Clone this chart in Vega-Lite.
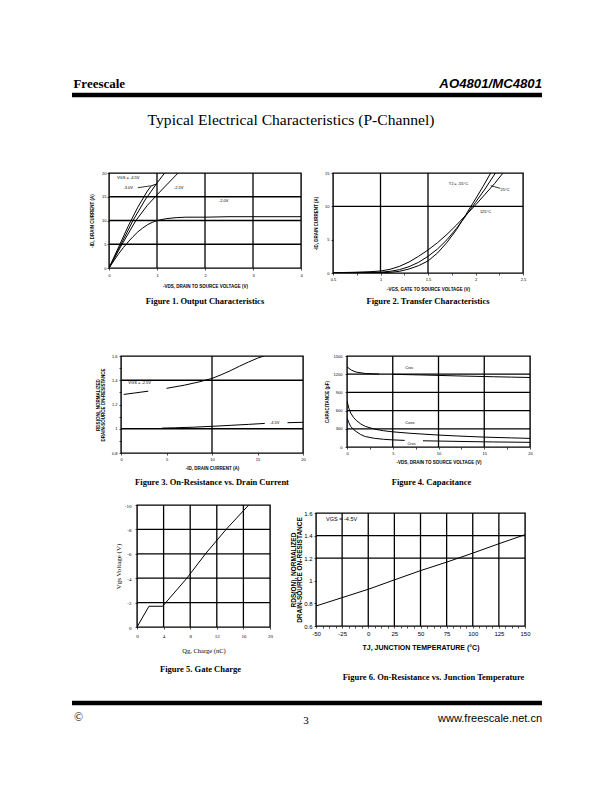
{
"$schema": "https://vega.github.io/schema/vega-lite/v6.json",
"background": "white",
"padding": {"left": 69, "top": 76, "right": 0, "bottom": 0},
"spacing": 0,
"config": {
 "view": {"stroke": "black", "strokeWidth": 1.4},
 "axis": {"domain": false, "grid": false, "tickColor": "black", "tickWidth": 0.7, "tickSize": 2, "labelColor": "black", "labelFont": "Liberation Sans", "labelFontSize": 4, "labelPadding": 2, "labelOverlap": false, "labelFlush": false, "titleColor": "black", "titleFont": "Liberation Sans Narrow, Liberation Sans", "titleFontWeight": "bold", "titleFontSize": 4.5},
 "title": {"font": "Liberation Serif", "fontWeight": "bold", "fontSize": 8.5, "color": "black", "orient": "bottom", "anchor": "middle", "frame": "group"},
 "line": {"color": "black", "strokeWidth": 1},
 "rule": {"color": "black"},
 "text": {"color": "black", "font": "Liberation Sans Narrow, Liberation Sans", "fontSize": 4}
},
"datasets": {
 "one": [{}],
 "f1": [
  {"c":"a","x":0,"y":0},{"c":"a","x":0.2,"y":4.4},{"c":"a","x":0.4,"y":8.8},{"c":"a","x":0.6,"y":12.8},{"c":"a","x":0.8,"y":16.2},{"c":"a","x":0.88,"y":17.3},{"c":"a","x":1.0,"y":17.7},
  {"c":"b","x":0,"y":0},{"c":"b","x":0.25,"y":5},{"c":"b","x":0.5,"y":10},{"c":"b","x":0.75,"y":14.3},{"c":"b","x":1.0,"y":17.9},{"c":"b","x":1.16,"y":20},
  {"c":"c","x":0,"y":0},{"c":"c","x":0.25,"y":4.6},{"c":"c","x":0.56,"y":10},{"c":"c","x":0.8,"y":13.2},{"c":"c","x":1.0,"y":15.4},{"c":"c","x":1.2,"y":17.5},{"c":"c","x":1.44,"y":20},
  {"c":"d","x":0,"y":0},{"c":"d","x":0.1,"y":1.5},{"c":"d","x":0.2,"y":3.0},{"c":"d","x":0.3,"y":4.3},{"c":"d","x":0.4,"y":5.5},{"c":"d","x":0.5,"y":6.6},{"c":"d","x":0.6,"y":7.6},{"c":"d","x":0.7,"y":8.4},{"c":"d","x":0.8,"y":9.1},{"c":"d","x":0.9,"y":9.6},{"c":"d","x":1.0,"y":10.0},{"c":"d","x":1.2,"y":10.4},{"c":"d","x":1.4,"y":10.6},{"c":"d","x":1.6,"y":10.7},{"c":"d","x":2.0,"y":10.7},{"c":"d","x":2.5,"y":10.8},{"c":"d","x":3.0,"y":10.8},{"c":"d","x":4.0,"y":10.8}
 ],
 "f1lab": [{"x":0.40,"y":19.0,"t":"VGS = -4.5V"},{"x":0.40,"y":16.8,"t":"-3.0V"},{"x":1.45,"y":16.8,"t":"-2.5V"},{"x":2.39,"y":14.2,"t":"-2.0V"}],
 "f1lead": [{"x":0.6,"y":16.9,"x2":0.87,"y2":17.3}],
 "f1g": [{"x":1,"y":0,"x2":1,"y2":20},{"x":2,"y":0,"x2":2,"y2":20},{"x":3,"y":0,"x2":3,"y2":20},{"x":0,"y":5,"x2":4,"y2":5},{"x":0,"y":10,"x2":4,"y2":10},{"x":0,"y":15,"x2":4,"y2":15}],
 "f2": [
  {"c":"125","x":0.5,"y":0.05},{"c":"125","x":0.7,"y":0.1},{"c":"125","x":0.9,"y":0.2},{"c":"125","x":1.0,"y":0.3},{"c":"125","x":1.1,"y":0.55},{"c":"125","x":1.2,"y":1.0},{"c":"125","x":1.3,"y":1.65},{"c":"125","x":1.4,"y":2.5},{"c":"125","x":1.5,"y":3.45},{"c":"125","x":1.6,"y":4.55},{"c":"125","x":1.7,"y":5.8},{"c":"125","x":1.8,"y":7.2},{"c":"125","x":1.9,"y":8.7},{"c":"125","x":2.0,"y":10.2},{"c":"125","x":2.1,"y":11.8},{"c":"125","x":2.2,"y":13.4},{"c":"125","x":2.29,"y":15},
  {"c":"25","x":0.5,"y":0.02},{"c":"25","x":0.8,"y":0.05},{"c":"25","x":1.0,"y":0.12},{"c":"25","x":1.1,"y":0.25},{"c":"25","x":1.2,"y":0.5},{"c":"25","x":1.3,"y":0.95},{"c":"25","x":1.4,"y":1.6},{"c":"25","x":1.5,"y":2.5},{"c":"25","x":1.6,"y":3.6},{"c":"25","x":1.7,"y":5.0},{"c":"25","x":1.8,"y":6.7},{"c":"25","x":1.9,"y":8.6},{"c":"25","x":2.0,"y":10.6},{"c":"25","x":2.1,"y":12.6},{"c":"25","x":2.21,"y":15},
  {"c":"-55","x":0.5,"y":0.01},{"c":"-55","x":0.8,"y":0.02},{"c":"-55","x":1.0,"y":0.05},{"c":"-55","x":1.1,"y":0.1},{"c":"-55","x":1.2,"y":0.25},{"c":"-55","x":1.3,"y":0.6},{"c":"-55","x":1.4,"y":1.1},{"c":"-55","x":1.5,"y":1.8},{"c":"-55","x":1.6,"y":3.0},{"c":"-55","x":1.7,"y":4.6},{"c":"-55","x":1.8,"y":6.5},{"c":"-55","x":1.9,"y":8.8},{"c":"-55","x":2.0,"y":11.1},{"c":"-55","x":2.08,"y":13.0},{"c":"-55","x":2.16,"y":15}
 ],
 "f2lab": [{"x":1.82,"y":13.4,"t":"TJ = -55°C"},{"x":2.31,"y":12.4,"t":"25°C"},{"x":2.105,"y":9.1,"t":"125°C"}],
 "f2lead": [{"x":2.26,"y":12.7,"x2":2.16,"y2":13.1}],
 "f2g": [{"x":1,"y":0,"x2":1,"y2":15},{"x":1.5,"y":0,"x2":1.5,"y2":15},{"x":0.5,"y":10,"x2":2.5,"y2":10}],
 "f3": [
  {"c":"a1","x":0.3,"y":1.283},{"c":"a1","x":1.5,"y":1.295},{"c":"a1","x":3.0,"y":1.31},
  {"c":"a2","x":5.0,"y":1.333},{"c":"a2","x":7.0,"y":1.36},{"c":"a2","x":8.5,"y":1.385},{"c":"a2","x":10,"y":1.415},{"c":"a2","x":11,"y":1.445},{"c":"a2","x":12,"y":1.478},{"c":"a2","x":13,"y":1.515},{"c":"a2","x":14,"y":1.55},{"c":"a2","x":15,"y":1.582},{"c":"a2","x":15.7,"y":1.6},
  {"c":"b1","x":4.5,"y":1.005},{"c":"b1","x":6,"y":1.008},{"c":"b1","x":8,"y":1.013},{"c":"b1","x":10,"y":1.02},{"c":"b1","x":12,"y":1.028},{"c":"b1","x":14,"y":1.036},{"c":"b1","x":15.8,"y":1.044},
  {"c":"b2","x":18.3,"y":1.05},{"c":"b2","x":20,"y":1.053}
 ],
 "f3lab": [{"x":2.05,"y":1.374,"t":"VGS = -2.5V"},{"x":16.88,"y":1.046,"t":"-4.5V"}],
 "f3g": [{"x":10,"y":0.8,"x2":10,"y2":1.6},{"x":0,"y":1.0,"x2":20,"y2":1.0},{"x":0,"y":1.4,"x2":20,"y2":1.4}],
 "f4": [
  {"c":"iss1","x":0,"y":1320},{"c":"iss1","x":0.5,"y":1265},{"c":"iss1","x":1,"y":1235},{"c":"iss1","x":2,"y":1212},{"c":"iss1","x":3.5,"y":1202},
  {"c":"iss2","x":5.0,"y":1198},{"c":"iss2","x":6,"y":1195},{"c":"iss2","x":8,"y":1188},{"c":"iss2","x":10,"y":1180},{"c":"iss2","x":12,"y":1172},{"c":"iss2","x":14,"y":1165},{"c":"iss2","x":16,"y":1158},{"c":"iss2","x":18,"y":1152},{"c":"iss2","x":20,"y":1146},
  {"c":"oss","x":0,"y":760},{"c":"oss","x":0.2,"y":640},{"c":"oss","x":0.4,"y":560},{"c":"oss","x":0.7,"y":490},{"c":"oss","x":1,"y":440},{"c":"oss","x":1.5,"y":380},{"c":"oss","x":2,"y":340},{"c":"oss","x":3,"y":295},{"c":"oss","x":4,"y":268},{"c":"oss","x":5,"y":250},{"c":"oss","x":7,"y":225},{"c":"oss","x":10,"y":197},{"c":"oss","x":12,"y":182},{"c":"oss","x":15,"y":163},{"c":"oss","x":18,"y":150},{"c":"oss","x":20,"y":142},
  {"c":"rss1","x":0,"y":480},{"c":"rss1","x":0.2,"y":400},{"c":"rss1","x":0.4,"y":340},{"c":"rss1","x":0.7,"y":290},{"c":"rss1","x":1,"y":255},{"c":"rss1","x":1.5,"y":205},{"c":"rss1","x":2,"y":172},{"c":"rss1","x":3,"y":143},{"c":"rss1","x":4,"y":127},{"c":"rss1","x":5,"y":117},{"c":"rss1","x":6.3,"y":109},
  {"c":"rss2","x":8.3,"y":102},{"c":"rss2","x":10,"y":98},{"c":"rss2","x":13,"y":90},{"c":"rss2","x":16,"y":83},{"c":"rss2","x":20,"y":77}
 ],
 "f4lab": [{"x":6.8,"y":1296,"t":"Ciss"},{"x":6.87,"y":403,"t":"Coss"},{"x":7.05,"y":50,"t":"Crss"}],
 "f4g": [{"x":5,"y":0,"x2":5,"y2":1500},{"x":10,"y":0,"x2":10,"y2":1500},{"x":15,"y":0,"x2":15,"y2":1500},{"x":0,"y":300,"x2":20,"y2":300},{"x":0,"y":600,"x2":20,"y2":600},{"x":0,"y":900,"x2":20,"y2":900},{"x":0,"y":1200,"x2":20,"y2":1200}],
 "f5": [{"x":0,"y":0},{"x":1.8,"y":-1.7},{"x":3.85,"y":-1.7},{"x":7.5,"y":-4},{"x":10.3,"y":-6},{"x":13.4,"y":-8},{"x":16.8,"y":-10}],
 "f5g": [{"x":4,"y":0,"x2":4,"y2":-10},{"x":8,"y":0,"x2":8,"y2":-10},{"x":12,"y":0,"x2":12,"y2":-10},{"x":16,"y":0,"x2":16,"y2":-10},{"x":0,"y":-2,"x2":20,"y2":-2},{"x":0,"y":-4,"x2":20,"y2":-4},{"x":0,"y":-6,"x2":20,"y2":-6},{"x":0,"y":-8,"x2":20,"y2":-8}],
 "f6": [{"x":-50,"y":0.777},{"x":-25,"y":0.851},{"x":0,"y":0.925},{"x":25,"y":1.008},{"x":50,"y":1.09},{"x":75,"y":1.165},{"x":100,"y":1.245},{"x":125,"y":1.328},{"x":150,"y":1.408}],
 "f6lab": [{"x":-25.5,"y":1.547,"t":"VGS = -4.5V"}],
 "f6g": [{"x":-25,"y":0.6,"x2":-25,"y2":1.6},{"x":0,"y":0.6,"x2":0,"y2":1.6},{"x":25,"y":0.6,"x2":25,"y2":1.6},{"x":50,"y":0.6,"x2":50,"y2":1.6},{"x":75,"y":0.6,"x2":75,"y2":1.6},{"x":100,"y":0.6,"x2":100,"y2":1.6},{"x":125,"y":0.6,"x2":125,"y2":1.6},{"x":-50,"y":1.2,"x2":150,"y2":1.2},{"x":-50,"y":1.4,"x2":150,"y2":1.4}]
},
"vconcat": [
 {
  "width": 470, "height": 94, "view": {"stroke": null},
  "data": {"name": "one"},
  "layer": [
   {"mark": {"type": "text", "align": "left", "baseline": "alphabetic", "font": "Liberation Serif", "fontWeight": "bold", "fontSize": 13},
    "encoding": {"x": {"datum": 0.003, "type": "quantitative", "scale": {"domain": [0, 1], "nice": false, "zero": false}, "axis": null},
                 "y": {"datum": 12, "type": "quantitative", "scale": {"domain": [0, 94], "reverse": true, "nice": false, "zero": false}, "axis": null},
                 "text": {"value": "Freescale"}}},
   {"mark": {"type": "text", "align": "right", "baseline": "alphabetic", "font": "Liberation Sans", "fontWeight": "bold", "fontStyle": "italic", "fontSize": 13.2},
    "encoding": {"x": {"datum": 1, "type": "quantitative"}, "y": {"datum": 12, "type": "quantitative"}, "text": {"value": "AO4801/MC4801"}}},
   {"mark": {"type": "rule", "strokeWidth": 4.5, "color": "black"},
    "encoding": {"x": {"datum": 0, "type": "quantitative"}, "x2": {"datum": 1}, "y": {"datum": 19, "type": "quantitative"}}},
   {"mark": {"type": "text", "align": "center", "baseline": "alphabetic", "font": "Liberation Serif", "fontSize": 15.6},
    "encoding": {"x": {"datum": 0.466, "type": "quantitative"}, "y": {"datum": 49, "type": "quantitative"}, "text": {"value": "Typical Electrical Characteristics (P-Channel)"}}}
  ]
 },
 {
  "hconcat": [
   {"width": 5, "height": 1, "view": {"stroke": null}, "data": {"name": "one"}, "mark": "text", "encoding": {"text": {"value": ""}}},
   {
    "width": 192, "height": 95,
    "title": {"text": "Figure 1. Output Characteristics", "offset": 9},
    "encoding": {
     "x": {"field": "x", "type": "quantitative", "scale": {"domain": [0, 4], "nice": false, "zero": false}, "axis": {"values": [0,1,2,3,4], "labelExpr": "'' + datum.value", "title": "-VDS, DRAIN TO SOURCE VOLTAGE (V)", "labelPadding": 3, "titlePadding": 6}},
     "y": {"field": "y", "type": "quantitative", "scale": {"domain": [0, 20], "nice": false, "zero": false}, "axis": {"values": [0,5,10,15,20], "labelExpr": "'' + datum.value", "title": "-ID, DRAIN CURRENT (A)", "labelPadding": 1, "titlePadding": 7}}
    },
    "layer": [
     {"data": {"name": "f1g"}, "mark": {"type": "rule", "strokeWidth": 1.3}, "encoding": {"x2": {"field": "x2"}, "y2": {"field": "y2"}}},
     {"data": {"name": "f1"}, "mark": {"type": "line", "clip": true}, "encoding": {"detail": {"field": "c"}}},
     {"data": {"name": "f1lead"}, "mark": {"type": "rule", "strokeWidth": 0.8}, "encoding": {"x2": {"field": "x2"}, "y2": {"field": "y2"}}},
     {"data": {"name": "f1lab"}, "mark": {"type": "text"}, "encoding": {"text": {"field": "t"}}}
    ]
   },
   {
    "width": 190, "height": 100,
    "title": {"text": "Figure 2. Transfer Characteristics", "offset": 6},
    "encoding": {
     "x": {"field": "x", "type": "quantitative", "scale": {"domain": [0.5, 2.5], "nice": false, "zero": false}, "axis": {"values": [0.5,0.75,1,1.25,1.5,1.75,2,2.25,2.5], "labelExpr": "datum.value % 0.5 == 0 ? '' + datum.value : ''", "title": "-VGS, GATE TO SOURCE VOLTAGE (V)", "labelPadding": 2, "titlePadding": 5}},
     "y": {"field": "y", "type": "quantitative", "scale": {"domain": [0, 15], "nice": false, "zero": false}, "axis": {"values": [0,5,10,15], "labelExpr": "'' + datum.value", "title": "-ID, DRAIN CURRENT (A)", "labelPadding": 2, "titlePadding": 6}}
    },
    "layer": [
     {"data": {"name": "f2g"}, "mark": {"type": "rule", "strokeWidth": 1.3}, "encoding": {"x2": {"field": "x2"}, "y2": {"field": "y2"}}},
     {"data": {"name": "f2"}, "mark": {"type": "line", "clip": true}, "encoding": {"detail": {"field": "c"}}},
     {"data": {"name": "f2lead"}, "mark": {"type": "rule", "strokeWidth": 0.8}, "encoding": {"x2": {"field": "x2"}, "y2": {"field": "y2"}}},
     {"data": {"name": "f2lab"}, "mark": {"type": "text"}, "encoding": {"text": {"field": "t"}}}
    ]
   }
  ],
  "spacing": 32, "bounds": "flush"
 },
 {"width": 1, "height": 47, "view": {"stroke": null}, "data": {"name": "one"}, "mark": "text", "encoding": {"text": {"value": ""}}},
 {
  "hconcat": [
   {"width": 5, "height": 1, "view": {"stroke": null}, "data": {"name": "one"}, "mark": "text", "encoding": {"text": {"value": ""}}},
   {
    "width": 182, "height": 97,
    "title": {"text": "Figure 3. On-Resistance vs. Drain Current", "offset": 8.5},
    "encoding": {
     "x": {"field": "x", "type": "quantitative", "scale": {"domain": [0, 20], "nice": false, "zero": false}, "axis": {"values": [0,5,10,15,20], "labelExpr": "'' + datum.value", "title": "-ID, DRAIN CURRENT (A)", "labelPadding": 2, "titlePadding": 4}},
     "y": {"field": "y", "type": "quantitative", "scale": {"domain": [0.8, 1.6], "nice": false, "zero": false}, "axis": {"values": [0.8,0.9,1,1.1,1.2,1.3,1.4,1.5,1.6], "labelExpr": "round(datum.value * 10) % 2 == 0 ? '' + datum.value : ''", "title": ["RDS(ON), NORMALIZED", "DRAIN-SOURCE ON-RESISTANCE"], "titleLineHeight": 5, "labelPadding": 2, "titlePadding": 6}}
    },
    "layer": [
     {"data": {"name": "f3g"}, "mark": {"type": "rule", "strokeWidth": 1.3}, "encoding": {"x2": {"field": "x2"}, "y2": {"field": "y2"}}},
     {"data": {"name": "f3"}, "mark": {"type": "line", "clip": true}, "encoding": {"detail": {"field": "c"}}},
     {"data": {"name": "f3lab"}, "mark": {"type": "text"}, "encoding": {"text": {"field": "t"}}}
    ]
   },
   {
    "width": 183, "height": 91,
    "title": {"text": "Figure 4. Capacitance", "offset": 14, "dx": -7},
    "encoding": {
     "x": {"field": "x", "type": "quantitative", "scale": {"domain": [0, 20], "nice": false, "zero": false}, "axis": {"values": [0,2.5,5,7.5,10,12.5,15,17.5,20], "labelExpr": "datum.value % 5 == 0 ? '' + datum.value : ''", "title": "-VDS, DRAIN TO SOURCE VOLTAGE (V)", "labelPadding": 2, "titlePadding": 4}},
     "y": {"field": "y", "type": "quantitative", "scale": {"domain": [0, 1500], "nice": false, "zero": false}, "axis": {"values": [0,300,600,900,1200,1500], "labelExpr": "'' + datum.value", "title": "CAPACITANCE (pF)", "labelPadding": 3, "titlePadding": 4}}
    },
    "layer": [
     {"data": {"name": "f4g"}, "mark": {"type": "rule", "strokeWidth": 1.3}, "encoding": {"x2": {"field": "x2"}, "y2": {"field": "y2"}}},
     {"data": {"name": "f4"}, "mark": {"type": "line", "clip": true}, "encoding": {"detail": {"field": "c"}}},
     {"data": {"name": "f4lab"}, "mark": {"type": "text"}, "encoding": {"text": {"field": "t"}}}
    ]
   }
  ],
  "spacing": 44, "bounds": "flush"
 },
 {"width": 1, "height": 14, "view": {"stroke": null}, "data": {"name": "one"}, "mark": "text", "encoding": {"text": {"value": ""}}},
 {
  "hconcat": [
   {"width": 19, "height": 1, "view": {"stroke": null}, "data": {"name": "one"}, "mark": "text", "encoding": {"text": {"value": ""}}},
   {
    "width": 133, "height": 122,
    "title": {"text": "Figure 5. Gate Charge", "offset": 11.5, "dx": -3},
    "encoding": {
     "x": {"field": "x", "type": "quantitative", "scale": {"domain": [0, 20], "nice": false, "zero": false}, "axis": {"values": [0,4,8,12,16,20], "labelExpr": "'' + datum.value", "title": "Qg, Charge (nC)", "labelFont": "Liberation Serif", "labelFontSize": 5, "titleFont": "Liberation Serif", "titleFontWeight": "normal", "titleFontSize": 6.5, "labelPadding": 4, "titlePadding": 9}},
     "y": {"field": "y", "type": "quantitative", "scale": {"domain": [0, -10], "nice": false, "zero": false}, "axis": {"values": [0,-2,-4,-6,-8,-10], "labelExpr": "'' + datum.value", "title": "Vgs Voltage (V)", "labelFont": "Liberation Serif", "labelFontSize": 5, "titleFont": "Liberation Serif", "titleFontWeight": "normal", "titleFontSize": 7, "labelPadding": 4, "titlePadding": 3}}
    },
    "layer": [
     {"data": {"name": "f5g"}, "mark": {"type": "rule", "strokeWidth": 1.3}, "encoding": {"x2": {"field": "x2"}, "y2": {"field": "y2"}}},
     {"data": {"name": "f5"}, "mark": {"type": "line", "clip": true}}
    ]
   },
   {
    "vconcat": [
     {"width": 1, "height": 8, "view": {"stroke": null}, "data": {"name": "one"}, "mark": "text", "encoding": {"text": {"value": ""}}},
     {
      "width": 209, "height": 113,
      "title": {"text": "Figure 6. On-Resistance vs. Junction Temperature", "offset": 22, "dx": 13},
      "encoding": {
       "x": {"field": "x", "type": "quantitative", "scale": {"domain": [-50, 150], "nice": false, "zero": false}, "axis": {"values": [-50,-43.75,-37.5,-31.25,-25,-18.75,-12.5,-6.25,0,6.25,12.5,18.75,25,31.25,37.5,43.75,50,56.25,62.5,68.75,75,81.25,87.5,93.75,100,106.25,112.5,118.75,125,131.25,137.5,143.75,150], "labelExpr": "datum.value % 25 == 0 ? '' + datum.value : ''", "title": "TJ, JUNCTION TEMPERATURE (°C)", "labelFontSize": 6, "titleFontSize": 7, "labelPadding": 2.5, "titlePadding": 7}},
       "y": {"field": "y", "type": "quantitative", "scale": {"domain": [0.6, 1.6], "nice": false, "zero": false}, "axis": {"values": [0.6,0.8,1,1.2,1.4,1.6], "labelExpr": "'' + datum.value", "title": ["RDS(ON), NORMALIZED", "DRAIN-SOURCE ON-RESISTANCE"], "labelFontSize": 6, "titleFontSize": 6.5, "titleLineHeight": 6.5, "labelPadding": 2, "titlePadding": 1}}
      },
      "layer": [
       {"data": {"name": "f6g"}, "mark": {"type": "rule", "strokeWidth": 1.3}, "encoding": {"x2": {"field": "x2"}, "y2": {"field": "y2"}}},
       {"data": {"name": "f6"}, "mark": {"type": "line", "clip": true}},
       {"data": {"name": "f6lab"}, "mark": {"type": "text", "fontSize": 5.5}, "encoding": {"text": {"field": "t"}}}
      ]
     }
    ],
    "spacing": 0, "bounds": "flush"
   }
  ],
  "spacing": 46, "bounds": "flush"
 },
 {"width": 1, "height": 10, "view": {"stroke": null}, "data": {"name": "one"}, "mark": "text", "encoding": {"text": {"value": ""}}},
 {
  "width": 470, "height": 32, "view": {"stroke": null},
  "data": {"name": "one"},
  "layer": [
   {"mark": {"type": "rule", "strokeWidth": 4.5, "color": "black"},
    "encoding": {"x": {"datum": 0, "type": "quantitative", "scale": {"domain": [0, 1], "nice": false, "zero": false}, "axis": null}, "x2": {"datum": 1},
                 "y": {"datum": 11, "type": "quantitative", "scale": {"domain": [0, 32], "reverse": true, "nice": false, "zero": false}, "axis": null}}},
   {"mark": {"type": "text", "align": "left", "baseline": "alphabetic", "font": "Liberation Serif", "fontSize": 12},
    "encoding": {"x": {"datum": 0.004, "type": "quantitative"}, "y": {"datum": 28.5, "type": "quantitative"}, "text": {"value": "©"}}},
   {"mark": {"type": "text", "align": "center", "baseline": "alphabetic", "font": "Liberation Serif", "fontSize": 11},
    "encoding": {"x": {"datum": 0.498, "type": "quantitative"}, "y": {"datum": 31.5, "type": "quantitative"}, "text": {"value": "3"}}},
   {"mark": {"type": "text", "align": "right", "baseline": "alphabetic", "font": "Liberation Sans", "fontSize": 11},
    "encoding": {"x": {"datum": 1, "type": "quantitative"}, "y": {"datum": 30, "type": "quantitative"}, "text": {"value": "www.freescale.net.cn"}}}
  ]
 }
]
}
